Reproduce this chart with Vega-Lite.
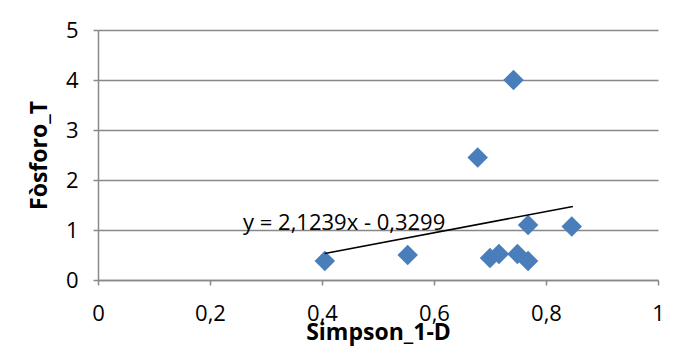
{
  "$schema": "https://vega.github.io/schema/vega-lite/v6.json",
  "width": 560,
  "height": 250,
  "autosize": {"type": "none"},
  "padding": {"left": 98, "top": 30, "right": 20, "bottom": 69},
  "background": "white",
  "config": {
    "view": {"stroke": null},
    "font": "Open Sans",
    "axis": {
      "labelFont": "Open Sans",
      "titleFont": "Open Sans",
      "labelFontSize": 22,
      "titleFontSize": 23,
      "titleFontWeight": "bold",
      "labelColor": "#000000",
      "titleColor": "#000000",
      "domainColor": "#888888",
      "domainWidth": 1.5,
      "tickColor": "#888888",
      "tickWidth": 1.5,
      "tickSize": 5,
      "gridColor": "#888888",
      "gridWidth": 1.5
    }
  },
  "datasets": {
    "points": [
      {"simpson": 0.405, "fosforo": 0.38},
      {"simpson": 0.553, "fosforo": 0.5},
      {"simpson": 0.678, "fosforo": 2.45},
      {"simpson": 0.700, "fosforo": 0.44},
      {"simpson": 0.716, "fosforo": 0.52},
      {"simpson": 0.742, "fosforo": 4.0},
      {"simpson": 0.749, "fosforo": 0.52},
      {"simpson": 0.768, "fosforo": 0.38},
      {"simpson": 0.768, "fosforo": 1.1},
      {"simpson": 0.846, "fosforo": 1.07}
    ],
    "trend": [
      {"simpson": 0.405, "fosforo": 0.530},
      {"simpson": 0.848, "fosforo": 1.471}
    ],
    "label": [
      {"simpson": 0.259, "fosforo": 1.15, "text": "y = 2,1239x - 0,3299"}
    ]
  },
  "layer": [
    {
      "data": {"name": "points"},
      "mark": {"type": "point", "shape": "diamond", "filled": true, "size": 420, "color": "#4a7ebb", "opacity": 1},
      "encoding": {
        "x": {
          "field": "simpson", "type": "quantitative",
          "scale": {"domain": [0, 1], "nice": false, "zero": true},
          "axis": {
            "title": "Simpson_1-D", "values": [0, 0.2, 0.4, 0.6, 0.8, 1],
            "format": ".1~f",
            "labelExpr": "replace(datum.label, '.', ',')",
            "grid": false, "labelPadding": 18, "titlePadding": -3,
            "labelFlush": false, "labelOverlap": false
          }
        },
        "y": {
          "field": "fosforo", "type": "quantitative",
          "scale": {"domain": [0, 5], "nice": false},
          "axis": {
            "title": "Fòsforo_T", "values": [0, 1, 2, 3, 4, 5],
            "grid": true, "labelPadding": 15, "titlePadding": 14,
            "labelFlush": false, "labelOverlap": false
          }
        }
      }
    },
    {
      "data": {"name": "trend"},
      "mark": {"type": "line", "color": "#000000", "strokeWidth": 1.5},
      "encoding": {
        "x": {"field": "simpson", "type": "quantitative"},
        "y": {"field": "fosforo", "type": "quantitative"}
      }
    },
    {
      "data": {"name": "label"},
      "mark": {"type": "text", "align": "left", "baseline": "middle", "fontSize": 22, "font": "Open Sans", "color": "#000000"},
      "encoding": {
        "x": {"field": "simpson", "type": "quantitative"},
        "y": {"field": "fosforo", "type": "quantitative"},
        "text": {"field": "text"}
      }
    }
  ]
}
